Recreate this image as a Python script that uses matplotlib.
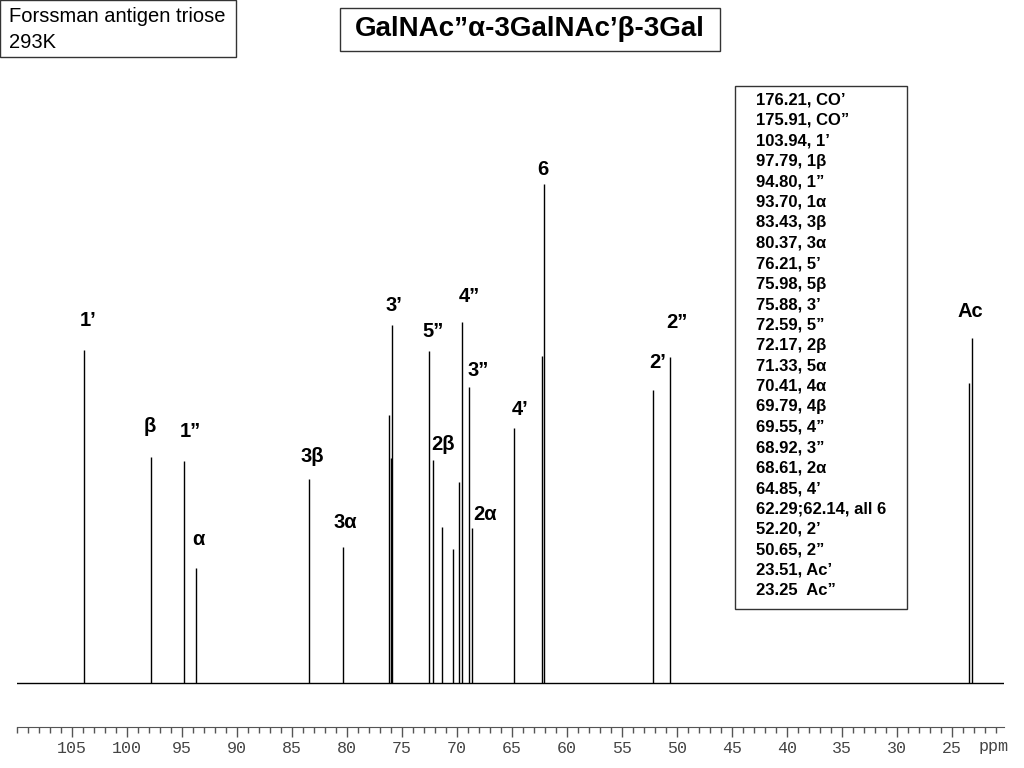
import numpy as np
import matplotlib
matplotlib.use("Agg")
import matplotlib.pyplot as plt
from matplotlib.patches import Rectangle
from matplotlib.ticker import MultipleLocator

plt.rcParams['font.family'] = ['Liberation Sans', 'DejaVu Sans']

# peak list: chemical shift (ppm) and height (6 peak = 100)
peak_ppm = [103.94, 97.79, 94.80, 93.70, 83.43, 80.37, 76.21, 75.98, 75.88,
            72.59, 72.17, 71.33, 70.41, 69.79, 69.55, 68.92, 68.61, 64.85,
            62.29, 62.14, 52.20, 50.65, 23.51, 23.25]
peak_height = [66.7, 45.3, 44.5, 23.0, 40.9, 27.3, 53.7, 45.0, 71.7,
               66.5, 44.7, 31.3, 26.9, 40.3, 72.3, 59.3, 31.1, 51.1,
               65.5, 100.0, 58.7, 65.3, 60.1, 69.1]

# assignment labels drawn over the spectrum (text, ppm, height)
label_text = ["1’", "β", "1”", "α", "3β", "3α", "3’", "5”", "4”", "2β",
              "3”", "2α", "4’", "6", "2’", "2”", "Ac"]
label_ppm = [103.55, 97.9, 94.27, 93.55, 83.18, 80.18, 75.73, 72.18, 68.9,
             71.27, 68.1, 67.45, 64.27, 62.18, 51.8, 50.0, 23.36]
label_height = [72.7, 51.3, 50.3, 28.7, 45.3, 32.1, 75.6, 70.5, 77.4,
                47.7, 62.7, 33.7, 54.9, 102.8, 64.3, 72.3, 74.5]

# shift table in the box on the right
shift_table = ["176.21, CO’", "175.91, CO”", "103.94, 1’", "97.79, 1β",
               "94.80, 1”", "93.70, 1α", "83.43, 3β", "80.37, 3α",
               "76.21, 5’", "75.98, 5β", "75.88, 3’", "72.59, 5”",
               "72.17, 2β", "71.33, 5α", "70.41, 4α", "69.79, 4β",
               "69.55, 4”", "68.92, 3”", "68.61, 2α", "64.85, 4’",
               "62.29;62.14, all 6", "52.20, 2’", "50.65, 2”",
               "23.51, Ac’", "23.25  Ac”"]

W, H = 1024, 768
fig = plt.figure(figsize=(W / 100, H / 100), dpi=100)

def fx(px):
    return px / W

def fy(py):
    return 1 - py / H

ax = fig.add_axes([fx(17), fy(727), fx(1004) - fx(17), fy(100) - fy(727)])

ax.axhline(0, color='black', lw=1.0)
ax.vlines(peak_ppm, 0, peak_height, color='black', lw=1.0)

for t, x, y in zip(label_text, label_ppm, label_height):
    ax.text(x, y, t, ha='center', va='center', fontsize=14.5, fontweight='bold')

ax.set_xlim(110, 20.3)
ax.set_ylim(-8.8, 116.8)

for s in ['top', 'left', 'right']:
    ax.spines[s].set_visible(False)
ax.spines['bottom'].set_color('#555555')
ax.set_yticks([])
ax.xaxis.set_minor_locator(MultipleLocator(1))
ax.set_xticks(np.arange(25, 110, 5))
ax.tick_params(axis='x', which='major', length=7, width=1, color='#555555',
               labelsize=12, labelcolor='#444444', pad=3)
ax.tick_params(axis='x', which='minor', length=4, width=1, color='#555555')
for lab in ax.get_xticklabels():
    lab.set_fontfamily('Liberation Mono')
fig.text(fx(979), fy(746), "ppm", ha='left', va='center', fontsize=12,
         color='#444444', family='Liberation Mono')

# top-left sample box
fig.add_artist(Rectangle((fx(0), fy(57)), fx(236), fy(0) - fy(57),
                         transform=fig.transFigure, fill=False, lw=1, ec='#333333'))
fig.text(fx(9), fy(17), "Forssman antigen triose", ha='left', va='center', fontsize=14.5)
fig.text(fx(9), fy(42), "293K", ha='left', va='center', fontsize=14.5)

# title box
fig.add_artist(Rectangle((fx(340), fy(51)), fx(380), fy(8) - fy(51),
                         transform=fig.transFigure, fill=False, lw=1, ec='#333333'))
fig.text(fx(530), fy(29), "GalNAc”α-3GalNAc’β-3Gal", ha='center', va='center',
         fontsize=20, fontweight='bold')

# shift table box
fig.add_artist(Rectangle((fx(735), fy(609)), fx(172), fy(86) - fy(609),
                         transform=fig.transFigure, fill=False, lw=1, ec='#333333'))
for i, line in enumerate(shift_table):
    fig.text(fx(756), fy(100 + i * 20.45), line, ha='left', va='center',
             fontsize=12, fontweight='bold')

fig.savefig("out.png", dpi=100)
